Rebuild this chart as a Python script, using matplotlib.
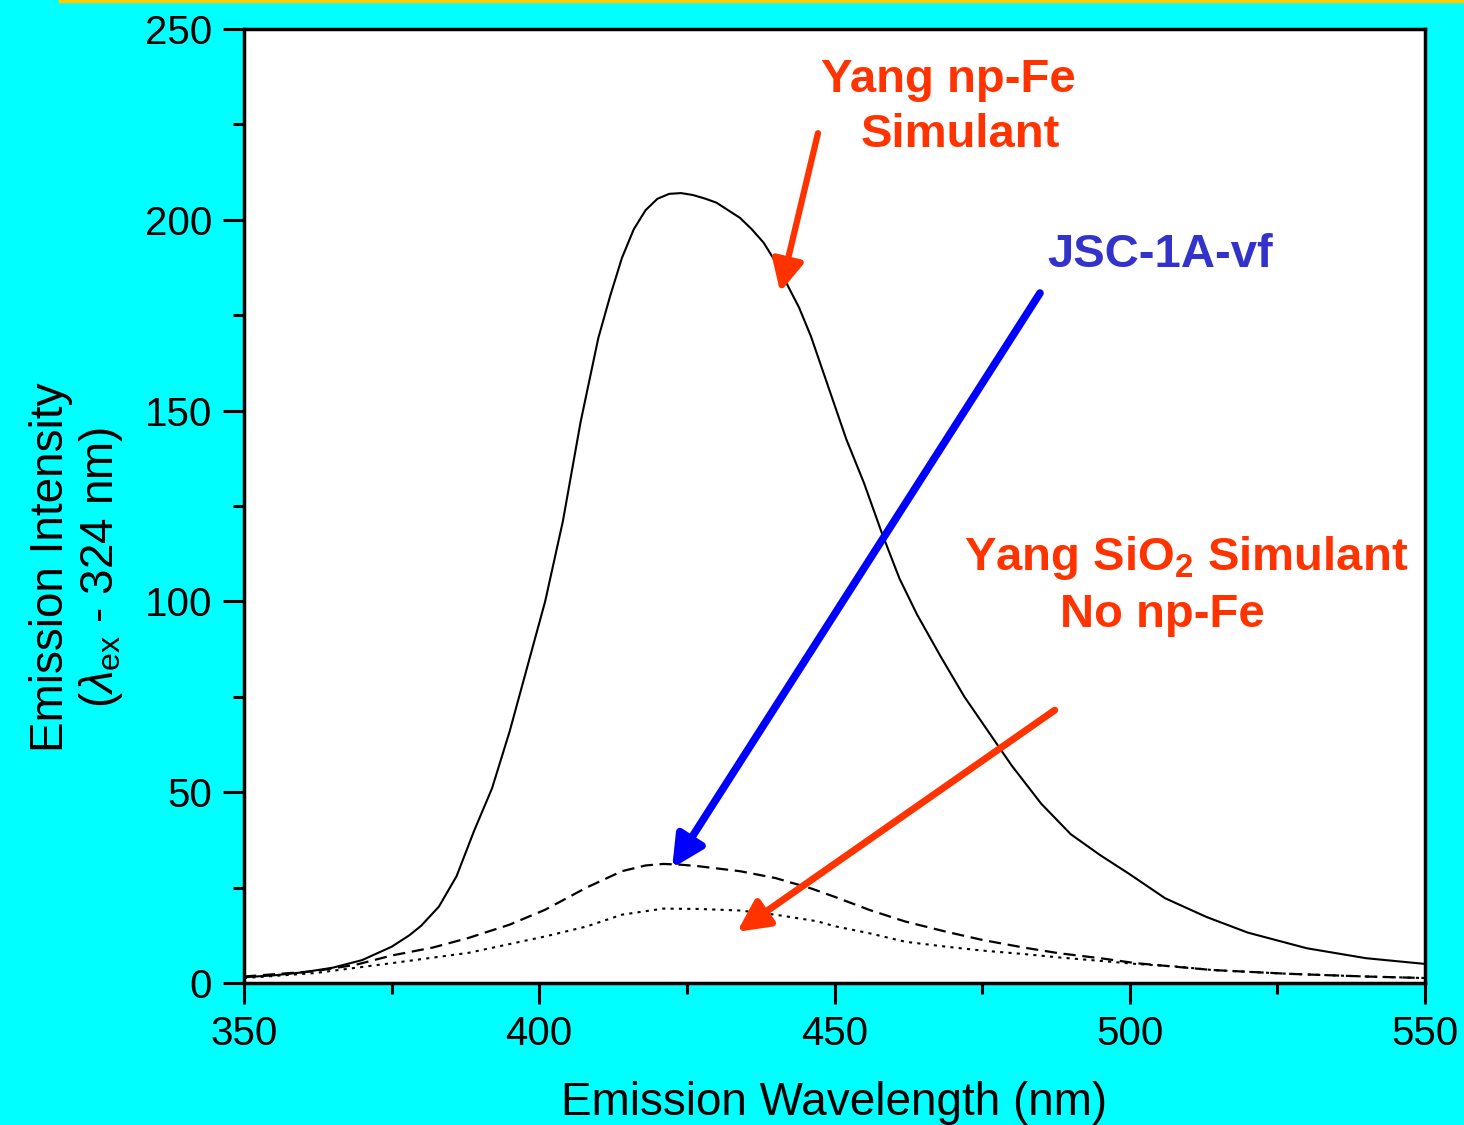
import matplotlib
matplotlib.use("Agg")
import matplotlib.pyplot as plt
from matplotlib.lines import Line2D
from matplotlib.ticker import MultipleLocator

plt.rcParams['font.family'] = ['Liberation Sans', 'DejaVu Sans']
plt.rcParams['mathtext.fontset'] = 'custom'
plt.rcParams['mathtext.rm'] = 'Liberation Sans'
plt.rcParams['mathtext.it'] = 'Liberation Sans:italic'
plt.rcParams['mathtext.bf'] = 'Liberation Sans:bold'

# --- data ---
np_fe_x = [350, 355, 360, 365, 370, 375, 378, 380, 383, 386, 389, 392, 395, 398, 401, 404, 407,
           410, 412, 414, 416, 418, 420, 422, 424, 426, 428, 430, 432, 434, 436, 438, 440, 442, 444,
           446, 449, 452, 455, 458, 461, 464, 468, 472, 476, 480, 485, 490, 495, 500, 506, 513,
           520, 530, 540, 550]
np_fe_y = [1.5, 2.0, 2.8, 4.0, 6.0, 9.5, 12.5, 15, 20, 28, 40, 51, 66, 83, 100, 121, 147,
           169, 180, 190, 197.5, 202.5, 205.5, 206.8, 207, 206.5, 205.6, 204.5, 202.5, 200.5, 197.5,
           194, 189, 183, 177, 169.5, 156, 142.5, 131, 118, 106, 96.5, 85.5, 75, 66, 57, 47, 39,
           33.5, 28.5, 22.2, 17.3, 13.2, 9.1, 6.5, 5.0]

jsc_x = [350, 356, 362, 369, 375, 382, 388, 395, 401, 408, 414, 418, 421, 424, 427, 434, 440,
         446, 450, 456, 462, 469, 475, 482, 488, 495, 501, 514, 527, 540, 550]
jsc_y = [1.7, 2.4, 3.1, 4.8, 7.2, 9.3, 11.8, 15.3, 19.2, 25, 29.3, 30.8, 31.2, 31.0, 30.6, 29.3, 27.5,
         24.8, 22.6, 19.1, 16.1, 13.4, 11.3, 9.3, 7.8, 6.5, 5.2, 3.4, 2.4, 1.7, 1.3]

sio2_x = [350, 362, 375, 388, 401, 408, 414, 421, 427, 434, 440, 447, 450, 456, 462, 469, 475,
          482, 488, 495, 501, 508, 514, 527, 540, 550]
sio2_y = [1.3, 2.6, 5.2, 7.9, 12.2, 14.8, 17.9, 19.5, 19.4, 19.0, 17.9, 16.2, 14.9, 13.0, 10.8, 9.5, 8.5,
          7.6, 6.7, 5.8, 5.0, 4.3, 3.4, 2.4, 1.7, 1.3]

xticks = [350, 400, 450, 500, 550]
yticks = [0, 50, 100, 150, 200, 250]

red = '#FF3300'
blue_txt = '#3333CC'
blue_arrow = '#0000FF'

fig = plt.figure(figsize=(14.64, 11.25), dpi=100)
fig.patch.set_facecolor('#00FFFF')
fig.add_artist(Line2D([60 / 1464, 1.0], [0.9995, 0.9995], transform=fig.transFigure,
                      color='#FFCC00', lw=2.5))

ax = fig.add_axes([244 / 1464, 1 - 983 / 1125, (1425 - 244) / 1464, (983 - 29) / 1125])
ax.set_facecolor('white')

ax.plot(np_fe_x, np_fe_y, color='black', lw=1.5, ls='-')
ax.plot(jsc_x, jsc_y, color='black', lw=1.6, ls=(0, (5.5, 3)))
ax.plot(sio2_x, sio2_y, color='black', lw=1.5, ls=(0, (1.5, 2.5)))

ax.set_xlim(350, 550)
ax.set_ylim(0, 250)
ax.set_xticks(xticks)
ax.set_yticks(yticks)
ax.xaxis.set_minor_locator(MultipleLocator(25))
ax.yaxis.set_minor_locator(MultipleLocator(25))
ax.tick_params(which='major', direction='out', length=15, width=2.2, labelsize=29, pad=8)
ax.tick_params(which='minor', direction='out', length=8, width=2.2)
for s in ax.spines.values():
    s.set_linewidth(2.5)

ax.set_xlabel('Emission Wavelength (nm)', fontsize=33, labelpad=20)
ax.set_ylabel('Emission Intensity\n' + r'($\lambda_{\mathrm{ex}}$ - 324 nm)', fontsize=33,
              linespacing=1.1)
ax.yaxis.set_label_coords(-0.101, 0.436)

tkw = dict(fontsize=34, fontweight='bold', ha='center', va='center')
ax.text(469.2, 236.6, 'Yang np-Fe', color=red, **tkw)
ax.text(471.3, 222.2, 'Simulant', color=red, **tkw)
ax.text(505.1, 190.8, 'JSC-1A-vf', color=blue_txt, **tkw)
ax.text(509.5, 111.4, r'Yang SiO$_{\mathbf{2}}$ Simulant', color=red, **tkw)
ax.text(505.5, 96.4, 'No np-Fe', color=red, **tkw)

def arrow(start, tip, color, lw):
    ax.annotate('', xy=tip, xytext=start,
                arrowprops=dict(arrowstyle='-|>,head_length=1.0,head_width=0.5',
                                mutation_scale=19, color=color, lw=lw,
                                shrinkA=0, shrinkB=0))

arrow((447.2, 222.7), (440.8, 181.1), red, 4.5)
arrow((484.8, 180.8), (422.5, 30.1), blue_arrow, 5.5)
arrow((487.3, 71.5), (433.5, 13.4), red, 5.0)

fig.savefig('out.png', dpi=100, facecolor=fig.get_facecolor())
